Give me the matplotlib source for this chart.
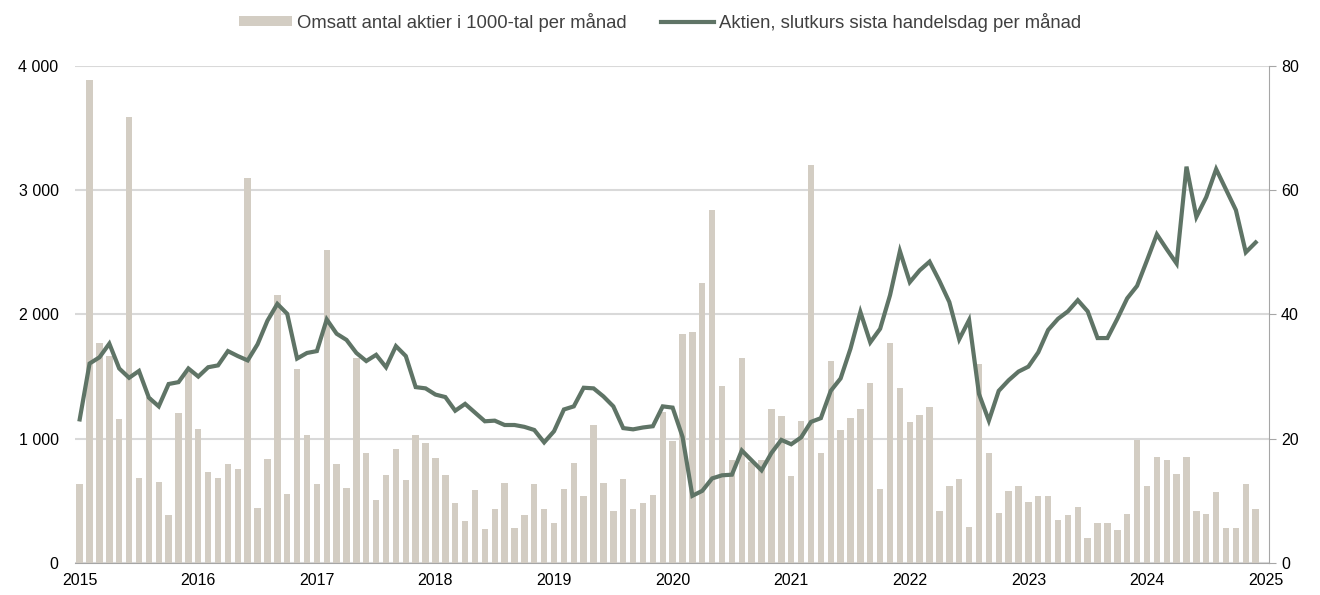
import numpy as np
import matplotlib.pyplot as plt
from matplotlib.ticker import FuncFormatter

plt.rcParams['font.family'] = ['Liberation Sans', 'DejaVu Sans']

# monthly data, Jan 2015 - Dec 2024
years = [str(y) for y in range(2015, 2026)]

# traded shares per month (thousands)
volume = [
    633, 3890, 1774, 1666, 1156, 3590, 687, 1336, 655, 384, 1210, 1537,
    1081, 732, 687, 800, 754, 3096, 445, 840, 2160, 553, 1564, 1033,
    633, 2517, 800, 606, 1653, 885, 510, 711, 918, 665, 1033, 963,
    848, 711, 478, 338, 590, 276, 437, 641, 284, 384, 633, 437,
    317, 598, 808, 537, 1111, 647, 416, 679, 432, 478, 545, 1215,
    979, 1841, 1859, 2257, 2844, 1422, 832, 1653, 813, 832, 1242, 1181,
    700, 1140, 3201, 885, 1629, 1073, 1167, 1237, 1452, 598, 1768, 1411,
    1132, 1189, 1256, 416, 617, 679, 290, 1599, 885, 405, 577, 617,
    491, 537, 537, 349, 384, 451, 201, 317, 317, 263, 392, 993,
    617, 851, 826, 719, 851, 416, 392, 571, 284, 284, 633, 437,
]

# closing price, last trading day of each month
close = [
    23.1, 32.1, 33.1, 35.3, 31.3, 29.8, 30.9, 26.6, 25.2, 28.8, 29.1, 31.3,
    30.0, 31.5, 31.8, 34.1, 33.3, 32.6, 35.2, 39.0, 41.7, 40.1, 32.9, 33.8,
    34.1, 39.2, 36.9, 35.9, 33.8, 32.5, 33.5, 31.5, 34.9, 33.3, 28.3, 28.1,
    27.1, 26.7, 24.5, 25.6, 24.2, 22.8, 22.9, 22.2, 22.2, 21.9, 21.4, 19.4,
    21.2, 24.7, 25.2, 28.2, 28.1, 26.8, 25.2, 21.7, 21.5, 21.8, 22.0, 25.2,
    25.0, 20.3, 10.8, 11.6, 13.6, 14.1, 14.2, 18.1, 16.5, 14.9, 17.7, 19.8,
    19.1, 20.2, 22.7, 23.3, 27.7, 29.7, 34.5, 40.4, 35.5, 37.7, 43.1, 50.2,
    45.2, 47.1, 48.5, 45.4, 42.0, 36.0, 39.1, 27.2, 22.9, 27.7, 29.4, 30.8,
    31.6, 33.9, 37.5, 39.3, 40.5, 42.3, 40.5, 36.2, 36.2, 39.3, 42.6, 44.6,
    48.7, 52.9, 50.5, 48.2, 63.8, 55.7, 58.9, 63.4, 60.1, 56.8, 50.0, 51.6,
]

bar_color = '#d3cdc3'
line_color = '#5f7466'
grid_color = '#d9d9d9'

x = np.arange(len(volume))

fig = plt.figure(figsize=(13.2, 5.95), dpi=100)
ax = fig.add_axes([0.057, 0.054, 0.904, 0.835])
ax2 = ax.twinx()

bars = ax.bar(x, volume, width=0.65, color=bar_color, zorder=2,
              label='Omsatt antal aktier i 1000-tal per månad')
line, = ax2.plot(x, close, color=line_color, lw=3, solid_joinstyle='miter',
                 label='Aktien, slutkurs sista handelsdag per månad')

ax.set_xlim(-0.45, 120.3)
ax.set_ylim(0, 4000)
ax2.set_ylim(0, 80)
ax.set_yticks([0, 1000, 2000, 3000, 4000])
ax2.set_yticks([0, 20, 40, 60, 80])
ax.yaxis.set_major_formatter(FuncFormatter(lambda v, p: f'{int(v):,}'.replace(',', ' ')))
ax.set_xticks(np.arange(0, 121, 12))
ax.set_xticklabels(years)

ax.grid(axis='y', color=grid_color, lw=1.5, zorder=0)
ax.set_axisbelow(True)
for a in (ax, ax2):
    for s in ('top', 'left'):
        a.spines[s].set_visible(False)
ax.spines['right'].set_visible(False)
ax2.spines['bottom'].set_visible(False)
ax.spines['bottom'].set_color('#a6a6a6')
ax2.spines['right'].set_color('#a6a6a6')

ax.tick_params(axis='x', length=0, labelsize=11.5, pad=7)
ax.tick_params(axis='y', length=0, labelsize=11.5, pad=12)
ax2.tick_params(axis='y', length=5, color='#a6a6a6', labelsize=11.5, pad=4)

leg = fig.legend(handles=[bars, line], loc='upper center', bbox_to_anchor=(0.5, 1.0),
                 ncol=2, frameon=False, fontsize=13.3, handlelength=2.9,
                 handleheight=0.45, handletextpad=0.25, columnspacing=1.85,
                 borderaxespad=0.3)
for t in leg.get_texts():
    t.set_color('#404040')

fig.savefig('out.png', dpi=100)
